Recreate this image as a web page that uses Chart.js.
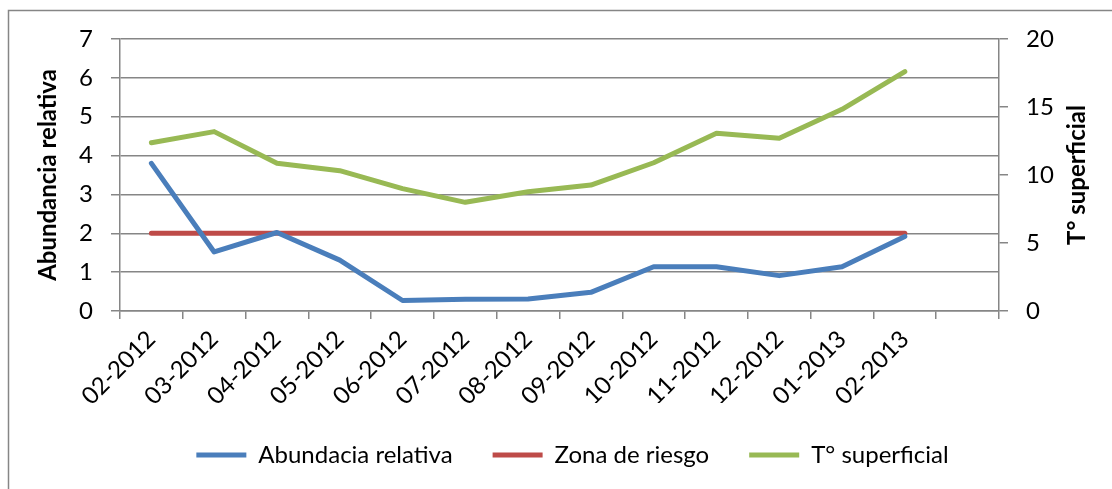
<!DOCTYPE html>
<html>
<head>
<meta charset="utf-8">
<script src="https://cdn.jsdelivr.net/npm/chart.js@4.4.1/dist/chart.umd.min.js"></script>
<style>
  html, body { margin: 0; padding: 0; background: #ffffff; }
  canvas { display: block; }
</style>
</head>
<body>
<canvas id="c" width="1112" height="489"></canvas>
<script>
// ---- Data ----
const categories = ['02-2012','03-2012','04-2012','05-2012','06-2012','07-2012','08-2012','09-2012','10-2012','11-2012','12-2012','01-2013','02-2013',''];
const abundancia = [3.8, 1.52, 2.02, 1.31, 0.27, 0.3, 0.31, 0.48, 1.14, 1.14, 0.91, 1.14, 1.92];
const zonaRiesgo = [2, 2, 2, 2, 2, 2, 2, 2, 2, 2, 2, 2, 2];
const temperatura = [12.37, 13.19, 10.86, 10.32, 9.0, 7.99, 8.77, 9.26, 10.9, 13.07, 12.7, 14.83, 17.6];
const leftTicks = [0, 1, 2, 3, 4, 5, 6, 7];
const rightTicks = [0, 5, 10, 15, 20];
const seriesNames = ['Abundacia relativa', 'Zona de riesgo', 'T° superficial'];
const leftTitle = 'Abundancia relativa';
const rightTitle = 'T° superficial';

// ---- Style ----
const FONT = 'Lato';
const GRID = '#868686';
Chart.defaults.font.family = FONT;
Chart.defaults.font.size = 24;
Chart.defaults.color = '#000000';

const frame = {
  id: 'frame',
  beforeInit(chart) {
    const lg = chart.legend;
    if (lg) {
      const orig = lg.fit;
      lg.fit = function () { orig.call(this); this.height = 86; };
    }
  },
  afterDraw(chart) {
    const ctx = chart.ctx;
    ctx.save();
    ctx.strokeStyle = GRID;
    ctx.lineWidth = 1.5;
    ctx.beginPath();
    ctx.moveTo(8.5, 489);
    ctx.lineTo(8.5, 10.5);
    ctx.lineTo(1112, 10.5);
    ctx.stroke();
    // right axis title, reading bottom-to-top
    const y1 = chart.scales.y1;
    ctx.translate(1077, (y1.top + y1.bottom) / 2);
    ctx.rotate(-Math.PI / 2);
    ctx.font = 'bold 24px ' + FONT;
    ctx.fillStyle = '#000';
    ctx.textAlign = 'center';
    ctx.textBaseline = 'middle';
    ctx.fillText(rightTitle, 0, 0);
    ctx.restore();
  }
};

const lineStyle = { borderWidth: 5, borderCapStyle: 'round', borderJoinStyle: 'round', pointRadius: 0, tension: 0, fill: false };

new Chart(document.getElementById('c'), {
  type: 'line',
  data: {
    labels: categories,
    datasets: [
      Object.assign({ label: seriesNames[0], data: abundancia, yAxisID: 'y', borderColor: '#4A7EBB', backgroundColor: '#4A7EBB' }, lineStyle),
      Object.assign({ label: seriesNames[1], data: zonaRiesgo, yAxisID: 'y', borderColor: '#BE4B48', backgroundColor: '#BE4B48' }, lineStyle),
      Object.assign({ label: seriesNames[2], data: temperatura, yAxisID: 'y1', borderColor: '#98B954', backgroundColor: '#98B954' }, lineStyle)
    ]
  },
  options: {
    responsive: false,
    animation: false,
    layout: { padding: { left: 33, right: 0, top: 39, bottom: 0 } },
    elements: {
      point: { radius: 0, hoverRadius: 0 }
    },
    plugins: {
      legend: {
        position: 'bottom',
        labels: {
          usePointStyle: true,
          pointStyle: 'line',
          pointStyleWidth: 50,
          padding: 40,
          color: '#000',
          font: { size: 24, family: FONT }
        }
      },
      tooltip: { enabled: false },
      title: { display: false }
    },
    scales: {
      x: {
        type: 'category',
        offset: true,
        grid: { offset: true, drawOnChartArea: false, drawTicks: true, tickLength: 8, color: GRID, lineWidth: 1.5 },
        border: { display: true, color: GRID, width: 1.5 },
        ticks: { autoSkip: false, minRotation: 45, maxRotation: 45, padding: 6, color: '#000', font: { size: 24 } },
        afterFit(s) { s.height = 92; }
      },
      y: {
        position: 'left',
        min: 0, max: 7,
        afterBuildTicks(s) { s.ticks = leftTicks.map(v => ({ value: v })); },
        grid: { drawOnChartArea: true, drawTicks: true, tickLength: 9, color: GRID, lineWidth: 1.5 },
        border: { display: true, color: GRID, width: 1.5 },
        ticks: { padding: 18, color: '#000', font: { size: 24 } },
        title: { display: true, text: leftTitle, color: '#000', font: { size: 24, weight: 'bold' }, padding: { top: 1, bottom: 0 } },
        afterFit(s) { s.width = 87; }
      },
      y1: {
        position: 'right',
        min: 0, max: 20,
        afterBuildTicks(s) { s.ticks = rightTicks.map(v => ({ value: v })); },
        grid: { drawOnChartArea: false, drawTicks: true, tickLength: 9, color: GRID, lineWidth: 1.5 },
        border: { display: true, color: GRID, width: 1.5 },
        ticks: { padding: 18, color: '#000', font: { size: 24 } },
        afterFit(s) { s.width = 113; }
      }
    }
  },
  plugins: [frame]
});
</script>
</body>
</html>
